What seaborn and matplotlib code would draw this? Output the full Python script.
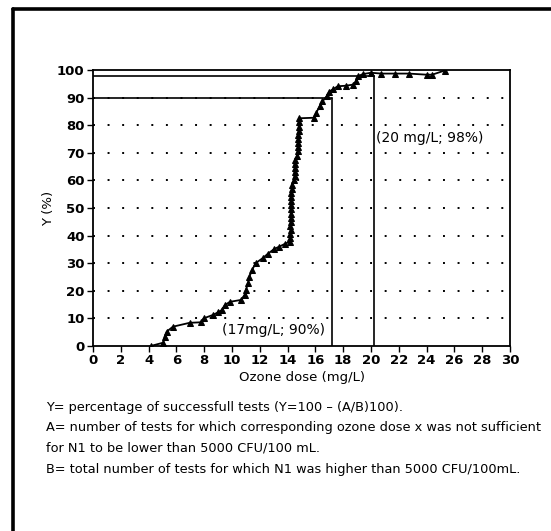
import matplotlib
matplotlib.use("Agg")
import matplotlib.pyplot as plt
from matplotlib.lines import Line2D
import seaborn as sns
import pandas as pd

# ---- data ----
dose = [4.15, 5.05, 5.15, 5.3, 5.75, 6.95, 7.8, 7.95, 8.6, 9.0, 9.25, 9.5, 9.85,
        10.65, 10.9, 11.0, 11.15, 11.25, 11.45, 11.7, 12.2, 12.6, 13.05, 13.4,
        13.8, 14.15,
        14.2, 14.2, 14.22, 14.2, 14.22, 14.25, 14.22, 14.25, 14.25, 14.27, 14.25,
        14.27, 14.3, 14.3,
        14.45, 14.5, 14.5, 14.52, 14.5, 14.55,
        14.7, 14.72, 14.75, 14.75, 14.78, 14.75, 14.8, 14.8, 14.8, 14.82,
        15.9, 16.05, 16.3, 16.5, 16.8, 17.0, 17.3, 17.6, 18.2, 18.7, 18.95, 19.05,
        19.4, 20.0, 20.75, 21.7, 22.7, 24.0, 24.4, 25.3]
success = [0, 1.2, 3.4, 5.2, 7.0, 8.4, 8.6, 10.0, 11.2, 12.2, 13.0, 14.9, 16.0,
           16.7, 18.5, 20.3, 22.7, 25.1, 27.6, 30.0, 31.8, 33.5, 35.2, 36.0,
           37.0, 37.8,
           39.0, 40.5, 42.0, 43.5, 45.0, 46.5, 48.0, 49.5, 51.0, 52.5, 54.0,
           55.5, 57.0, 58.5,
           60.0, 61.5, 63.0, 64.5, 66.0, 67.5,
           69.0, 70.5, 72.0, 73.5, 75.0, 76.5, 78.0, 79.5, 81.0, 82.5,
           82.7, 84.4, 86.8, 88.6, 90.4, 92.2, 93.1, 94.1, 94.3, 94.7, 95.9, 97.7,
           98.5, 99.0, 98.7, 98.7, 98.7, 98.3, 98.3, 99.8]
x_ticks = list(range(0, 31, 2))
y_ticks = list(range(0, 101, 10))
ref_dose = [17.2, 20.2]
ref_pct = [90, 98]
ref_labels = ["(17mg/L; 90%)", "(20 mg/L; 98%)"]
notes = [
    "Y= percentage of successfull tests (Y=100 \u2013 (A/B)100).",
    "A= number of tests for which corresponding ozone dose x was not sufficient",
    "for N1 to be lower than 5000 CFU/100 mL.",
    "B= total number of tests for which N1 was higher than 5000 CFU/100mL.",
]

df = pd.DataFrame({"dose": dose, "Y": success})

sns.set_style("white")
plt.rcParams["font.family"] = ["DejaVu Sans"]
plt.rcParams["text.color"] = "black"
plt.rcParams["axes.labelcolor"] = "black"
plt.rcParams["xtick.color"] = "black"
plt.rcParams["ytick.color"] = "black"

fig = plt.figure(figsize=(5.51, 5.31), dpi=100)
ax = fig.add_axes([0.1688, 0.3484, 0.7568, 0.5198])

# dotted horizontal grid
for yv in y_ticks[1:-1]:
    ax.axhline(yv, color="black", lw=1.4, ls=(0, (1, 6.5)), zorder=1)

# reference lines
for xd, yp in zip(ref_dose, ref_pct):
    ax.plot([0, xd], [yp, yp], color="black", lw=1.2, zorder=2)
    ax.plot([xd, xd], [0, yp], color="black", lw=1.2, zorder=2)

sns.lineplot(data=df, x="dose", y="Y", ax=ax, sort=False, estimator=None,
             color="black", lw=1.3, marker="^", markersize=4.5,
             markeredgecolor="black", markerfacecolor="black", zorder=3)

ax.text(9.3, 5.8, ref_labels[0], fontsize=10, va="center", ha="left")
ax.text(20.35, 75.4, ref_labels[1], fontsize=10, va="center", ha="left")

ax.set_xlim(0, 30)
ax.set_ylim(0, 100)
ax.set_xticks(x_ticks)
ax.set_yticks(y_ticks)
ax.tick_params(axis="both", direction="out", length=4, width=1, labelsize=9.5,
               color="black", pad=2, left=True, bottom=True)
for lab in ax.get_xticklabels() + ax.get_yticklabels():
    lab.set_fontweight("bold")
for sp in ax.spines.values():
    sp.set_color("black")
    sp.set_linewidth(1.3)

ax.set_xlabel("Ozone dose (mg/L)", fontsize=9.5, labelpad=3)
ax.set_ylabel("Y (%)", fontsize=9.5)
ax.yaxis.set_label_coords(-0.091, 0.5)

# footnotes
for i, t in enumerate(notes):
    fig.text(46 / 551, 1 - (407 + i * 20.7) / 531, t, fontsize=9.3,
             ha="left", va="center")

# outer frame (left and top edges visible)
fig.add_artist(Line2D([13 / 551, 13 / 551], [0, 1 - 9 / 531], color="black", lw=2.6,
                      transform=fig.transFigure))
fig.add_artist(Line2D([13 / 551, 1], [1 - 9 / 531, 1 - 9 / 531], color="black", lw=2.6,
                      transform=fig.transFigure))

fig.savefig("out.png", dpi=100)
